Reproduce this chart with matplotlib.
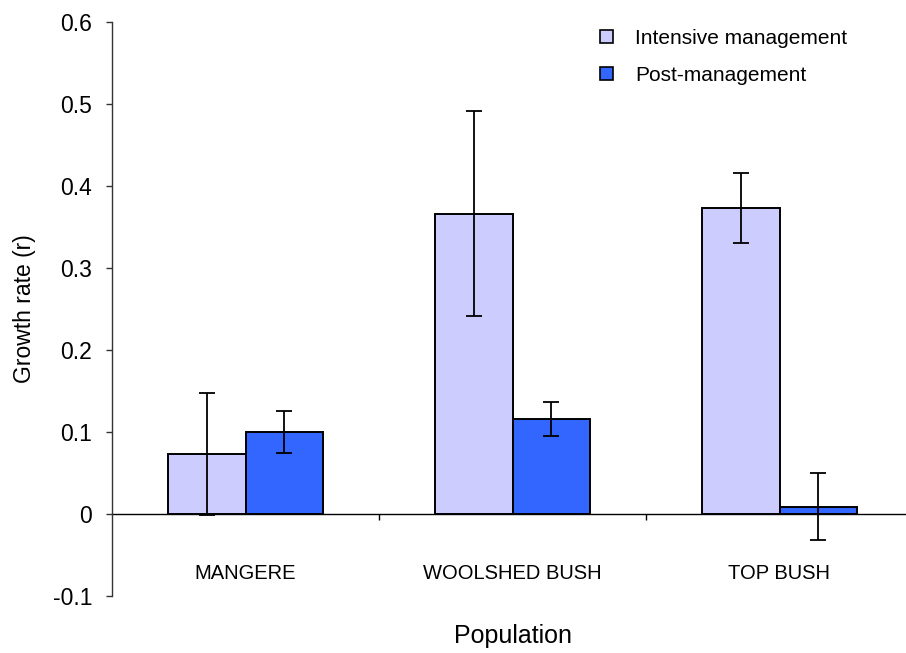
import matplotlib
matplotlib.use("Agg")
import matplotlib.pyplot as plt
from matplotlib.patches import Patch
import numpy as np

plt.rcParams['font.family'] = ['Liberation Sans', 'DejaVu Sans']

populations = ["MANGERE", "WOOLSHED BUSH", "TOP BUSH"]
series_names = ["Intensive management", "Post-management"]
intensive = [0.073, 0.366, 0.373]
intensive_err = [0.074, 0.125, 0.043]
post = [0.100, 0.116, 0.009]
post_err = [0.0255, 0.021, 0.041]
yticks = [-0.1, 0, 0.1, 0.2, 0.3, 0.4, 0.5, 0.6]
ytick_labels = ["-0.1", "0", "0.1", "0.2", "0.3", "0.4", "0.5", "0.6"]

colors = ["#CCCCFF", "#3366FF"]

W, H = 906, 653
fig = plt.figure(figsize=(W / 100, H / 100), dpi=100)
left_px, right_px, top_px, bottom_px = 112, 906, 22, 596
ax = fig.add_axes([left_px / W, 1 - bottom_px / H,
                   (right_px - left_px) / W, (bottom_px - top_px) / H])

cat_px = 267
x = np.arange(len(populations))
bw = 0.29
err_kw = dict(ecolor="black", elinewidth=1.3, capsize=6, capthick=1.3)
ax.bar(x - bw / 2, intensive, bw, yerr=intensive_err, color=colors[0],
       edgecolor="black", linewidth=1.4, error_kw=err_kw, zorder=2)
ax.bar(x + bw / 2, post, bw, yerr=post_err, color=colors[1],
       edgecolor="black", linewidth=1.4, error_kw=err_kw, zorder=2)

ax.set_xlim(-0.5, -0.5 + (right_px - left_px) / cat_px)
ax.set_ylim(-0.1, 0.6)

for s in ("top", "right"):
    ax.spines[s].set_visible(False)
ax.spines["bottom"].set_position(("data", 0))
ax.spines["bottom"].set_zorder(1)
ax.spines["left"].set_color("#333333")
ax.spines["left"].set_linewidth(1.0)
ax.spines["bottom"].set_linewidth(1.0)

ax.set_yticks(yticks)
ax.set_yticklabels(ytick_labels)
ax.tick_params(axis="y", direction="out", length=4.3, width=1.0,
               labelsize=16.5, pad=10, color="#333333")

# category boundaries as ticks, names centred under each group
ax.set_xticks([0.5, 1.5])
ax.set_xticklabels([])
ax.tick_params(axis="x", which="major", direction="out", length=4.3, width=1.0)
ax.set_xticks(x, minor=True)
ax.set_xticklabels(populations, minor=True)
ax.tick_params(axis="x", which="minor", length=0, labelsize=14.5, pad=36)

ax.set_ylabel("Growth rate (r)", fontsize=16.5, labelpad=12)
fig.text((left_px + 1.5 * cat_px) / W, 1 - 636 / H, "Population",
         fontsize=18, ha="center", va="center")

handles = [Patch(facecolor=c, edgecolor="black", linewidth=1.2) for c in colors]
ax.legend(handles, series_names, loc="upper left", frameon=False,
          bbox_to_anchor=(600 / W, 1 - 29 / H), bbox_transform=fig.transFigure,
          fontsize=15, handlelength=0.6, handleheight=0.6, handletextpad=1.1,
          labelspacing=0.85, borderpad=0, borderaxespad=0)

fig.savefig("out.png", dpi=100)
